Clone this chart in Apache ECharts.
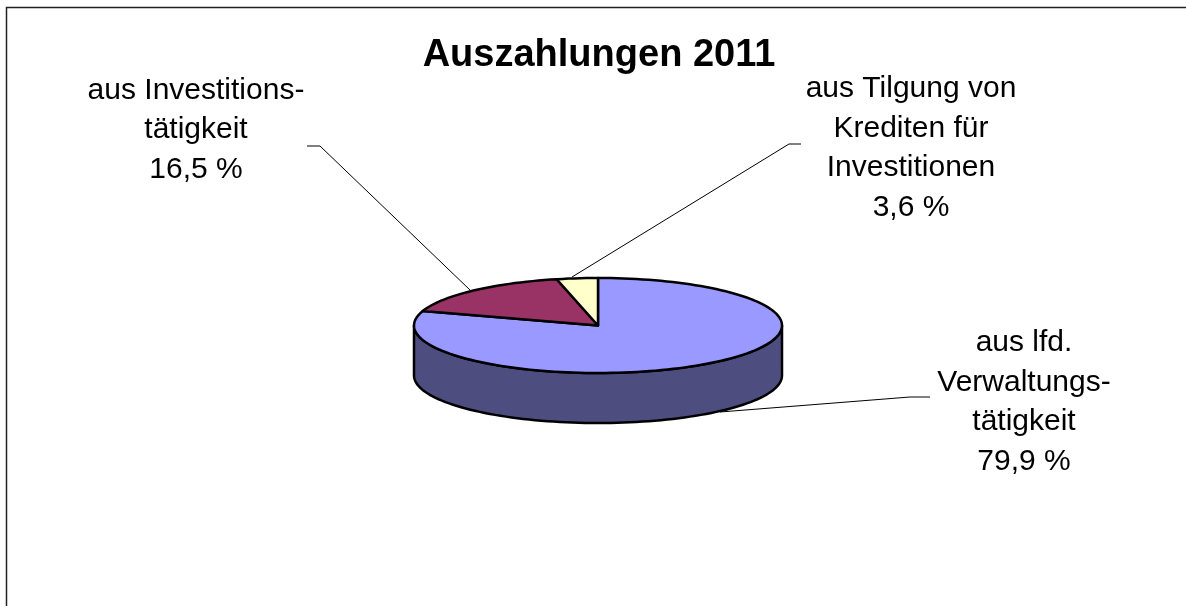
<!DOCTYPE html>
<html>
<head>
<meta charset="utf-8">
<style>
  html, body { margin: 0; padding: 0; background: #fff; }
  #chart { width: 1186px; height: 606px; }
</style>
<script src="https://cdn.jsdelivr.net/npm/echarts@6/dist/echarts.min.js"></script>
</head>
<body>
<div id="chart"></div>
<script>
const titleText = "Auszahlungen 2011";
const categories = [
  "aus lfd.\nVerwaltungs-\ntätigkeit",
  "aus Investitions-\ntätigkeit",
  "aus Tilgung von\nKrediten für\nInvestitionen"
];
const values = [79.9, 16.5, 3.6];
const valueLabels = ["79,9 %", "16,5 %", "3,6 %"];
const topColors = ["#9999ff", "#993366", "#ffffcc"];
const sideColors = ["#4d4d80", "#4d1a33", "#808066"];

const pie = { cx: 598, cy: 325.5, rx: 184, ry: 47.5, depth: 50 };
const labelPos = [[1024, 402], [196, 130], [911, 148]];
const leaderLines = [
  [[930, 397], [910, 397], [720, 412]],
  [[307, 146], [320, 146], [470, 290]],
  [[801, 144], [789, 144], [572, 277]]
];
const fontFamily = '"Liberation Sans", Arial, sans-serif';

// clockwise angle from 12 o'clock, squashed into the ellipse
function pt(deg, dy) {
  const a = deg * Math.PI / 180;
  return [pie.cx + pie.rx * Math.sin(a), pie.cy - pie.ry * Math.cos(a) + (dy || 0)];
}
function arc(from, to, dy) {
  const pts = [];
  const n = Math.max(2, Math.ceil(Math.abs(to - from) / 2));
  for (let i = 0; i <= n; i++) pts.push(pt(from + (to - from) * i / n, dy));
  return pts;
}

const total = values.reduce((s, v) => s + v, 0);
const starts = [];
values.reduce((s, v, i) => { starts[i] = s; return s + v; }, 0);

function renderSlice(params, api) {
  const i = params.dataIndex;
  const a0 = starts[i] / total * 360;
  const a1 = (starts[i] + api.value(0)) / total * 360;
  const children = [];
  // wall: only the part of the slice facing front (90 to 270 degrees)
  const w0 = Math.max(a0, 90), w1 = Math.min(a1, 270);
  if (w1 > w0) {
    children.push({
      type: "polygon",
      shape: { points: arc(w0, w1, 0).concat(arc(w1, w0, pie.depth)) },
      style: { fill: sideColors[i], stroke: "#000", lineWidth: 2.5, lineJoin: "round" }
    });
  }
  children.push({
    type: "polygon",
    shape: { points: [[pie.cx, pie.cy]].concat(arc(a0, a1, 0)) },
    style: { fill: topColors[i], stroke: "#000", lineWidth: 2.5, lineJoin: "round" }
  });
  return { type: "group", children: children };
}

const chart = echarts.init(document.getElementById("chart"), null, { renderer: "canvas" });

const graphics = [
  {
    type: "polyline",
    shape: { points: [[6.5, 606], [6.5, 7.5], [1186, 7.5]] },
    style: { fill: null, stroke: "#222", lineWidth: 1.5 },
    silent: true
  }
];
leaderLines.forEach(points => {
  graphics.push({
    type: "polyline",
    shape: { points: points },
    style: { fill: null, stroke: "#000", lineWidth: 1 },
    z: -1,
    silent: true
  });
});
categories.forEach((name, i) => {
  graphics.push({
    type: "text",
    x: labelPos[i][0],
    y: labelPos[i][1],
    style: {
      text: name + "\n" + valueLabels[i],
      font: '30px ' + fontFamily,
      lineHeight: 39.5,
      align: "center",
      verticalAlign: "middle",
      fill: "#000"
    },
    silent: true
  });
});

chart.setOption({
  animation: false,
  backgroundColor: "#fff",
  title: {
    text: titleText,
    left: 594,
    top: 32,
    textAlign: "center",
    textStyle: { color: "#000", fontFamily: fontFamily, fontSize: 38, fontWeight: "bold" }
  },
  tooltip: { show: false },
  graphic: graphics,
  series: [
    {
      type: "custom",
      coordinateSystem: "none",
      renderItem: renderSlice,
      data: values.map(v => [v]),
      silent: true,
      z: 2
    }
  ]
});
</script>
</body>
</html>
